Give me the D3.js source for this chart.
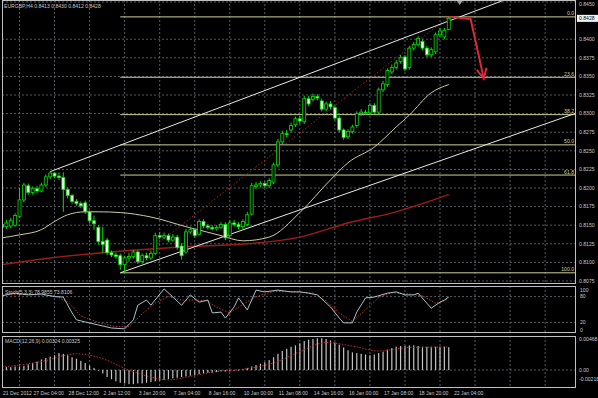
<!DOCTYPE html>
<html>
<head>
<meta charset="utf-8">
<script src="https://cdnjs.cloudflare.com/ajax/libs/d3/7.8.5/d3.min.js"></script>
<style>
  body { margin: 0; background: #000; }
  svg { display: block; }
  text { font-family: "Liberation Sans", Arial, sans-serif; }
</style>
</head>
<body>
<div id="chart"></div>
<script>
// EURGBP H4 candles: [open, high, low, close]
const bars = [
  [0.8151, 0.8156, 0.8143, 0.8147], [0.8148, 0.8157, 0.8145, 0.8153], [0.8149, 0.8160, 0.8146, 0.8156],
  [0.8150, 0.8166, 0.8148, 0.8163], [0.8162, 0.8200, 0.8160, 0.8184], [0.8184, 0.8207, 0.8181, 0.8204],
  [0.8203, 0.8206, 0.8191, 0.8194], [0.8194, 0.8202, 0.8191, 0.8199], [0.8199, 0.8203, 0.8193, 0.8196],
  [0.8196, 0.8207, 0.8194, 0.8204], [0.8204, 0.8218, 0.8201, 0.8215], [0.8215, 0.8222, 0.8212, 0.8220],
  [0.8220, 0.8221, 0.8213, 0.8216], [0.8216, 0.8221, 0.8211, 0.8214], [0.8214, 0.8221, 0.8168, 0.8198],
  [0.8198, 0.8201, 0.8186, 0.8190], [0.8190, 0.8192, 0.8179, 0.8182], [0.8182, 0.8185, 0.8176, 0.8179],
  [0.8179, 0.8182, 0.8173, 0.8176], [0.8180, 0.8183, 0.8165, 0.8168], [0.8168, 0.8170, 0.8152, 0.8156],
  [0.8156, 0.8163, 0.8144, 0.8152], [0.8147, 0.8150, 0.8124, 0.8128], [0.8128, 0.8148, 0.8113, 0.8124],
  [0.8130, 0.8133, 0.8110, 0.8113], [0.8113, 0.8116, 0.8107, 0.8110], [0.8110, 0.8113, 0.8105, 0.8108],
  [0.8109, 0.8112, 0.8090, 0.8097], [0.8097, 0.8109, 0.8086, 0.8106], [0.8106, 0.8113, 0.8101, 0.8108],
  [0.8108, 0.8117, 0.8105, 0.8114], [0.8114, 0.8116, 0.8098, 0.8101], [0.8101, 0.8112, 0.8098, 0.8109],
  [0.8109, 0.8113, 0.8103, 0.8106], [0.8106, 0.8116, 0.8103, 0.8112], [0.8112, 0.8140, 0.8110, 0.8136],
  [0.8136, 0.8141, 0.8131, 0.8134], [0.8134, 0.8140, 0.8131, 0.8136], [0.8136, 0.8139, 0.8127, 0.8130],
  [0.8130, 0.8138, 0.8128, 0.8134], [0.8134, 0.8137, 0.8117, 0.8120], [0.8122, 0.8126, 0.8104, 0.8109],
  [0.8114, 0.8145, 0.8112, 0.8141], [0.8141, 0.8148, 0.8138, 0.8144], [0.8144, 0.8146, 0.8133, 0.8136],
  [0.8138, 0.8158, 0.8136, 0.8155], [0.8155, 0.8158, 0.8146, 0.8149], [0.8149, 0.8152, 0.8144, 0.8147],
  [0.8147, 0.8150, 0.8143, 0.8145], [0.8145, 0.8150, 0.8143, 0.8147], [0.8147, 0.8154, 0.8145, 0.8151],
  [0.8151, 0.8154, 0.8130, 0.8133], [0.8136, 0.8157, 0.8134, 0.8153], [0.8153, 0.8157, 0.8148, 0.8151],
  [0.8151, 0.8154, 0.8144, 0.8148], [0.8148, 0.8158, 0.8145, 0.8155], [0.8151, 0.8168, 0.8149, 0.8164],
  [0.8165, 0.8207, 0.8163, 0.8203], [0.8202, 0.8208, 0.8199, 0.8204], [0.8204, 0.8209, 0.8201, 0.8206],
  [0.8206, 0.8209, 0.8200, 0.8203], [0.8203, 0.8213, 0.8200, 0.8210], [0.8208, 0.8234, 0.8205, 0.8231],
  [0.8231, 0.8266, 0.8228, 0.8262], [0.8262, 0.8277, 0.8259, 0.8273], [0.8273, 0.8278, 0.8268, 0.8272],
  [0.8278, 0.8288, 0.8275, 0.8284], [0.8285, 0.8296, 0.8282, 0.8293], [0.8293, 0.8297, 0.8286, 0.8290],
  [0.8289, 0.8324, 0.8286, 0.8320], [0.8320, 0.8324, 0.8310, 0.8313], [0.8319, 0.8327, 0.8316, 0.8323],
  [0.8323, 0.8326, 0.8318, 0.8321], [0.8317, 0.8320, 0.8303, 0.8306], [0.8306, 0.8316, 0.8303, 0.8313],
  [0.8313, 0.8317, 0.8306, 0.8309], [0.8308, 0.8311, 0.8291, 0.8294], [0.8294, 0.8297, 0.8275, 0.8278],
  [0.8278, 0.8280, 0.8265, 0.8268], [0.8269, 0.8279, 0.8266, 0.8276], [0.8276, 0.8285, 0.8273, 0.8282],
  [0.8284, 0.8303, 0.8281, 0.8300], [0.8300, 0.8306, 0.8297, 0.8302], [0.8302, 0.8305, 0.8298, 0.8301],
  [0.8301, 0.8314, 0.8298, 0.8311], [0.8311, 0.8314, 0.8299, 0.8302], [0.8302, 0.8335, 0.8299, 0.8332],
  [0.8332, 0.8344, 0.8329, 0.8340], [0.8339, 0.8361, 0.8336, 0.8358], [0.8356, 0.8366, 0.8353, 0.8362],
  [0.8362, 0.8372, 0.8359, 0.8368], [0.8370, 0.8379, 0.8367, 0.8375], [0.8376, 0.8379, 0.8357, 0.8360],
  [0.8362, 0.8391, 0.8359, 0.8388], [0.8388, 0.8396, 0.8385, 0.8393], [0.8393, 0.8404, 0.8390, 0.8401],
  [0.8397, 0.8400, 0.8385, 0.8388], [0.8388, 0.8391, 0.8376, 0.8379], [0.8379, 0.8389, 0.8376, 0.8386],
  [0.8383, 0.8409, 0.8380, 0.8406], [0.8406, 0.8415, 0.8403, 0.8411], [0.8403, 0.8415, 0.8400, 0.8412],
  [0.8413, 0.8430, 0.8412, 0.8428]
];

// moving averages, [bar index, price]
const maLight = [[0, 0.8133], [4, 0.8137], [9, 0.8144], [12, 0.8155], [15, 0.8164], [19, 0.8168], [22, 0.8168],
  [27, 0.8167], [34, 0.8161], [42, 0.8148], [50, 0.8136], [55, 0.8129], [61, 0.8134], [68, 0.8167],
  [75, 0.8211], [79, 0.8234], [85, 0.8255], [90, 0.8282], [93, 0.8298], [98, 0.8328], [102, 0.8339]];
const maRed = [[0, 0.8097], [11, 0.8106], [25, 0.8114], [42, 0.8121], [56, 0.8125], [68, 0.8134],
  [79, 0.8153], [90, 0.8168], [102, 0.8191]];

// trend lines: two anchor points each [bar index, price]
const upperTrend = [[11, 0.8222], [100, 0.8420]];
const lowerTrend = [[27, 0.8086], [91, 0.8218]];

// fibonacci retracement
const fibLow = 0.8086, fibHigh = 0.8430;
const fibLowIdx = 27, fibHighIdx = 102;
const fibLevels = [0, 23.6, 38.2, 50, 61.8, 100];
const fibLabels = ['0.0', '23.6', '38.2', '50.0', '61.8', '100.0'];

// red arrow annotation
const arrowPts = [[102, 0.8430], [107, 0.8427], [110, 0.8347]];

// stochastic (5,3,3)
const stochMain = [[0, 82], [3, 88], [6, 84], [9, 86], [12, 80], [14, 79], [16, 42], [17, 26], [19, 21], [22, 14],
  [25, 7], [28, 5], [30, 26], [31, 60], [33, 72], [34, 60], [37, 98], [39, 79], [41, 60], [43, 84], [45, 67],
  [47, 72], [48, 42], [50, 44], [51, 30], [53, 56], [54, 77], [56, 49], [58, 95], [60, 91], [63, 95], [66, 91],
  [68, 91], [70, 88], [72, 84], [75, 56], [77, 30], [78, 19], [80, 19], [81, 44], [83, 77], [85, 79], [88, 88],
  [90, 91], [92, 84], [94, 84], [95, 88], [98, 53], [100, 67], [101, 72], [102, 79]];
const stochSignal = [[0, 84], [6, 85], [12, 82], [15, 68], [18, 35], [22, 20], [26, 10], [29, 10], [32, 40],
  [35, 65], [38, 80], [41, 72], [44, 72], [47, 70], [49, 55], [52, 42], [55, 62], [58, 80], [62, 92], [67, 91],
  [71, 88], [74, 70], [77, 42], [80, 22], [83, 50], [86, 78], [89, 89], [93, 86], [96, 82], [99, 64], [102, 74]];

// MACD (12,26,9) histogram per bar and signal line
const macdHist = [
  0.0004, 0.0004, 0.0004, 0.0005, 0.0005, 0.0006, 0.0008, 0.0010, 0.0012, 0.0015, 0.0017, 0.0019, 0.0021,
  0.0024, 0.0023, 0.0021, 0.0018, 0.0016, 0.0013, 0.0010, 0.0006, 0.0003, -0.0001, -0.0005, -0.0010,
  -0.0013, -0.0016, -0.0018, -0.0019, -0.0020, -0.0020, -0.0019, -0.0019, -0.0018, -0.0017, -0.0016,
  -0.0015, -0.0014, -0.0013, -0.0012, -0.0011, -0.0010, -0.0009, -0.0008, -0.0007, -0.0006, -0.0005,
  -0.0004, -0.0004, -0.0003, -0.0002, -0.0002, -0.0002, -0.0001, -0.0001, 0.0001, 0.0003, 0.0005, 0.0007,
  0.0009, 0.0011, 0.0014, 0.0018, 0.0023, 0.0027, 0.0030, 0.0033, 0.0035, 0.0038, 0.0041, 0.0043, 0.0044,
  0.0045, 0.0045, 0.0044, 0.0042, 0.0039, 0.0036, 0.0032, 0.0028, 0.0025, 0.0024, 0.0023, 0.0022, 0.0021,
  0.0022, 0.0024, 0.0026, 0.0029, 0.0031, 0.0033, 0.0034, 0.0034, 0.0035, 0.0035, 0.0034, 0.0033, 0.0033,
  0.0033, 0.0033, 0.0033, 0.0033, 0.00324
];
const macdSignal = [[0, 0.0004], [9, 0.0012], [17, 0.0023], [22, 0.0018], [29, 0.0000], [34, -0.0010],
  [38, -0.0014], [43, -0.0009], [47, -0.0004], [56, 0.0002], [62, 0.0010], [68, 0.0026], [74, 0.0039],
  [80, 0.0034], [86, 0.0027], [93, 0.0032], [102, 0.00325]];

// axes
const priceTicks = [0.8075, 0.8100, 0.8125, 0.8150, 0.8175, 0.8200, 0.8225, 0.8250, 0.8275, 0.8300,
  0.8325, 0.8350, 0.8375, 0.8400, 0.8450];
const lastPrice = 0.8428;
const stochTicks = [0, 20, 80, 100];
const stochLevels = [20, 80];
const macdTicks = [-0.00218, 0, 0.00468];
const macdTickLabels = ['-0.00218', '0.00', '0.00468'];
const gridIdx = [4, 12, 20, 28, 36, 44, 52, 60, 68, 76, 84, 92, 100, 108, 116, 124];
const dateLabels = ['27 Dec 04:00', '28 Dec 12:00', '2 Jan 12:00', '3 Jan 20:00', '7 Jan 04:00', '8 Jan 16:00',
  '10 Jan 00:00', '11 Jan 08:00', '14 Jan 16:00', '16 Jan 00:00', '17 Jan 08:00', '18 Jan 20:00', '22 Jan 04:00'];
const firstDate = '21 Dec 2012';
const title = 'EURGBP,H4  0.8413 0.8430 0.8412 0.8428';
const stochTitle = 'Stoch(5,3,3) 78.9855 73.8106';
const macdTitle = 'MACD(12,26,9) 0.00324 0.00325';

const W = 598, H = 398;
const PLOT_L = 2, PLOT_R = 576;
const MAIN_T = 0, MAIN_B = 284;
const ST_T = 286, ST_B = 333;
const MD_T = 336, MD_B = 388;
const FONT = 5.1;
const TXT = '#c8c8c8';
const GRID = '#6a737c';
const CANDLE = '#00e000';

const svg = d3.select('#chart').append('svg').attr('width', W).attr('height', H).style('background', '#000');
const defs = svg.append('defs');
[['clipMain', MAIN_T, MAIN_B], ['clipStoch', ST_T, ST_B], ['clipMacd', MD_T, MD_B]].forEach(([id, t, b]) => {
  defs.append('clipPath').attr('id', id).append('rect')
    .attr('x', PLOT_L).attr('y', t).attr('width', PLOT_R - PLOT_L).attr('height', b - t);
});
defs.append('marker').attr('id', 'arrowHead').attr('markerUnits', 'userSpaceOnUse')
  .attr('markerWidth', 14).attr('markerHeight', 14).attr('refX', 11).attr('refY', 6).attr('orient', 'auto')
  .attr('viewBox', '0 0 14 12')
  .append('path').attr('d', 'M1,1 L11,6 L1,11').attr('fill', 'none').attr('stroke', '#e0283c').attr('stroke-width', 2);

const x = d3.scaleLinear().domain([0, 102]).range([2, 2 + 4.38 * 102]);
const yMain = d3.scaleLinear().domain([0.8075, 0.8450]).range([281, 2]);
const yStoch = d3.scaleLinear().domain([0, 100]).range([331, 288]);
const yMacd = d3.scaleLinear().domain([-0.00218, 0.00468]).range([385.4, 337]);
const idxRight = x.invert(PLOT_R);

// grid
const grid = svg.append('g').attr('stroke', GRID).attr('stroke-width', 0.8).attr('stroke-dasharray', '2,2');
[[MAIN_T, MAIN_B], [ST_T, ST_B], [MD_T, MD_B]].forEach(([t, b]) => {
  grid.append('g').selectAll('line').data(gridIdx).join('line')
    .attr('x1', d => x(d)).attr('x2', d => x(d)).attr('y1', t).attr('y2', b);
});
grid.append('g').selectAll('line').data(priceTicks).join('line')
  .attr('x1', PLOT_L).attr('x2', PLOT_R).attr('y1', d => yMain(d)).attr('y2', d => yMain(d));
grid.append('g').selectAll('line').data(stochLevels).join('line')
  .attr('x1', PLOT_L).attr('x2', PLOT_R).attr('y1', d => yStoch(d)).attr('y2', d => yStoch(d));
grid.append('line').attr('x1', PLOT_L).attr('x2', PLOT_R).attr('y1', yMacd(0)).attr('y2', yMacd(0));

// main panel content
const main = svg.append('g').attr('clip-path', 'url(#clipMain)');

// fibonacci levels
const fibPrice = l => fibHigh - l / 100 * (fibHigh - fibLow);
main.append('g').selectAll('line').data(fibLevels).join('line')
  .attr('x1', x(fibLowIdx)).attr('x2', PLOT_R)
  .attr('y1', d => yMain(fibPrice(d))).attr('y2', d => yMain(fibPrice(d)))
  .attr('stroke', '#cfcf98').attr('stroke-width', 1);
main.append('line')
  .attr('x1', x(fibLowIdx)).attr('y1', yMain(fibLow)).attr('x2', x(fibHighIdx)).attr('y2', yMain(fibHigh))
  .attr('stroke', '#a82020').attr('stroke-width', 1).attr('stroke-dasharray', '1.5,2');

// moving averages
const lineIdx = y => d3.line().x(d => x(d[0])).y(d => y(d[1])).curve(d3.curveMonotoneX);
main.append('path').attr('d', lineIdx(yMain)(maRed)).attr('fill', 'none')
  .attr('stroke', '#9c1c1c').attr('stroke-width', 1.4);
main.append('path').attr('d', lineIdx(yMain)(maLight)).attr('fill', 'none')
  .attr('stroke', '#cdc9a8').attr('stroke-width', 1);

// trend lines (rays to the right edge)
[upperTrend, lowerTrend].forEach(([[i1, p1], [i2, p2]]) => {
  const pEnd = p1 + (p2 - p1) * (idxRight - i1) / (i2 - i1);
  main.append('line')
    .attr('x1', x(i1)).attr('y1', yMain(p1)).attr('x2', PLOT_R).attr('y2', yMain(pEnd))
    .attr('stroke', '#e8e8e8').attr('stroke-width', 1);
});

// candles
const BODY_W = 3;
main.append('g').selectAll('line').data(bars).join('line')
  .attr('x1', (d, i) => x(i)).attr('x2', (d, i) => x(i))
  .attr('y1', d => yMain(d[1])).attr('y2', d => yMain(d[2]))
  .attr('stroke', CANDLE).attr('stroke-width', 1);
main.append('g').selectAll('rect').data(bars).join('rect')
  .attr('x', (d, i) => x(i) - BODY_W / 2)
  .attr('y', d => yMain(Math.max(d[0], d[3])))
  .attr('width', BODY_W)
  .attr('height', d => Math.max(0.8, Math.abs(yMain(d[0]) - yMain(d[3]))))
  .attr('fill', d => d[3] >= d[0] ? '#000' : '#f0fff0')
  .attr('stroke', CANDLE).attr('stroke-width', 0.8);

// arrow
main.append('path')
  .attr('d', d3.line().x(d => x(d[0])).y(d => yMain(d[1]))(arrowPts))
  .attr('fill', 'none').attr('stroke', '#e0283c').attr('stroke-width', 2)
  .attr('stroke-linejoin', 'round').attr('marker-end', 'url(#arrowHead)');

// chart shift marker
const shiftX = x(104.5);
svg.append('path').attr('d', `M${shiftX - 3},1 L${shiftX + 3},1 L${shiftX},5 Z`).attr('fill', '#9a9a9a');

// fib labels
svg.append('g').selectAll('text').data(fibLevels).join('text')
  .attr('x', PLOT_R - 2).attr('y', d => yMain(fibPrice(d)) - 1.5)
  .attr('text-anchor', 'end').attr('font-size', FONT).attr('fill', '#d4d49a')
  .text((d, i) => fibLabels[i]);

// stochastic
const stoch = svg.append('g').attr('clip-path', 'url(#clipStoch)');
stoch.append('path').attr('d', d3.line().x(d => x(d[0])).y(d => yStoch(d[1]))(stochSignal))
  .attr('fill', 'none').attr('stroke', '#c03030').attr('stroke-width', 1).attr('stroke-dasharray', '1.5,1.5');
stoch.append('path').attr('d', d3.line().x(d => x(d[0])).y(d => yStoch(d[1]))(stochMain))
  .attr('fill', 'none').attr('stroke', '#a9c4cc').attr('stroke-width', 1);

// MACD
const macd = svg.append('g').attr('clip-path', 'url(#clipMacd)');
macd.append('g').selectAll('rect').data(macdHist).join('rect')
  .attr('x', (d, i) => x(i) - 0.6).attr('width', 1.2)
  .attr('y', d => yMacd(Math.max(0, d))).attr('height', d => Math.abs(yMacd(d) - yMacd(0)))
  .attr('fill', '#c4c4c4');
macd.append('path').attr('d', d3.line().x(d => x(d[0])).y(d => yMacd(d[1])).curve(d3.curveMonotoneX)(macdSignal))
  .attr('fill', 'none').attr('stroke', '#c03030').attr('stroke-width', 1).attr('stroke-dasharray', '1.5,1.5');

// frames
const frames = svg.append('g').attr('fill', 'none').attr('stroke', '#c0c0c0').attr('stroke-width', 1);
[[MAIN_T, MAIN_B], [ST_T, ST_B], [MD_T, MD_B]].forEach(([t, b]) => {
  frames.append('rect').attr('x', PLOT_L + 0.5).attr('y', t + 0.5)
    .attr('width', PLOT_R - PLOT_L - 1).attr('height', b - t - 1);
});

// price axis
const axisText = svg.append('g').attr('font-size', FONT).attr('fill', TXT);
axisText.selectAll('text.price').data(priceTicks).join('text').attr('class', 'price')
  .attr('x', PLOT_R + 3).attr('y', d => Math.max(4, yMain(d))).attr('dy', '0.35em').text(d => d.toFixed(4));
svg.append('rect').attr('x', PLOT_R + 1).attr('y', yMain(lastPrice) - 3.5).attr('width', W - PLOT_R - 1)
  .attr('height', 7).attr('fill', '#f4f4f4');
svg.append('text').attr('x', PLOT_R + 3).attr('y', yMain(lastPrice)).attr('dy', '0.35em')
  .attr('font-size', FONT).attr('fill', '#000').text(lastPrice.toFixed(4));

// stochastic axis
axisText.selectAll('text.stoch').data(stochTicks).join('text').attr('class', 'stoch')
  .attr('x', PLOT_R + 4).attr('y', d => Math.min(Math.max(yStoch(d), ST_T + 4), ST_B - 3))
  .attr('dy', '0.35em').text(d => d);

// MACD axis
axisText.selectAll('text.macd').data(macdTicks).join('text').attr('class', 'macd')
  .attr('x', PLOT_R + 3).attr('y', d => Math.min(Math.max(yMacd(d), MD_T + 3), MD_B - 9))
  .attr('dy', '0.35em').text((d, i) => macdTickLabels[i]);

// time axis
axisText.append('text').attr('x', 3).attr('y', 395).text(firstDate);
axisText.selectAll('text.date').data(dateLabels).join('text').attr('class', 'date')
  .attr('x', (d, i) => x(gridIdx[i]) + 14).attr('y', 395).text(d => d);

// panel titles
axisText.append('text').attr('x', 4).attr('y', 8).text(title);
axisText.append('text').attr('x', 5).attr('y', 294).text(stochTitle);
axisText.append('text').attr('x', 5).attr('y', 343).text(macdTitle);
</script>
</body>
</html>
